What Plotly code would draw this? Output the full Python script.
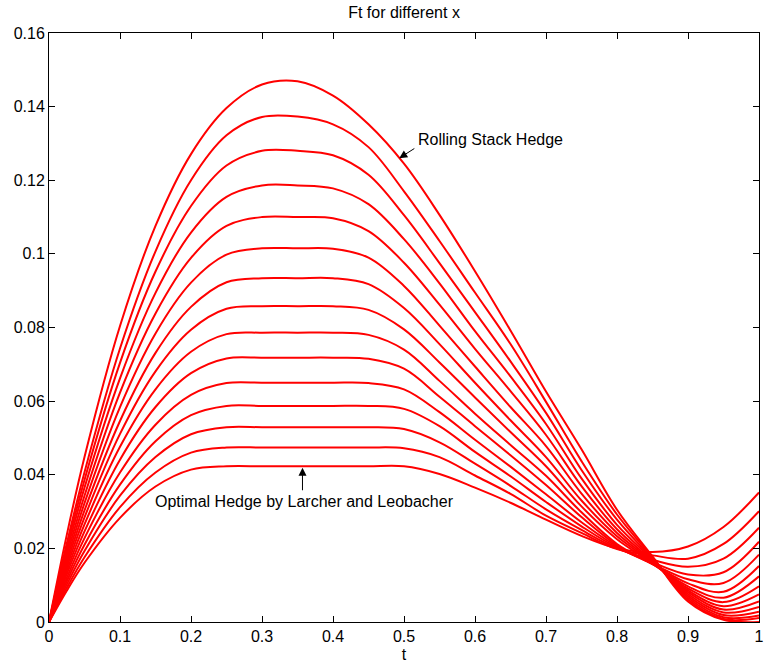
import plotly.graph_objects as go

# Sample times (t axis)
T = [0, 0.025, 0.05, 0.1, 0.15, 0.2, 0.25, 0.3, 0.35, 0.4, 0.45, 0.5,
     0.55, 0.6, 0.65, 0.7, 0.75, 0.8, 0.85, 0.9, 0.95, 1.0]

# F_t curves, from the rolling stack hedge (top) down to the optimal hedge (bottom)
F_00 = [0, .0236, .0448, .0804, .1076, .1271, .1396, .1460, .1469, .1430, .1352, .1245,
        .1106, .0953, .0792, .0626, .0469, .0305, .0178, .0056, .0006, 0]
F_01 = [0, .0213, .0407, .0743, .1007, .1200, .1322, .1372, .1373, .1352, .1290, .1170,
        .1035, .0895, .0755, .0598, .0437, .0292, .0175, .0061, .0008, .0011]
F_02 = [0, .0202, .0386, .0704, .0952, .1130, .1240, .1280, .1280, .1268, .1215, .1105,
        .0975, .0842, .0708, .0568, .0413, .0278, .0172, .0066, .0013, .0018]
F_03 = [0, .0191, .0365, .0662, .0894, .1058, .1155, .1186, .1186, .1178, .1135, .1040,
        .0920, .0790, .0667, .0538, .0390, .0264, .0169, .0071, .0019, .0028]
F_04 = [0, .0180, .0343, .0623, .0838, .0989, .1076, .1100, .1100, .1097, .1062, .0976,
        .0862, .0742, .0627, .0508, .0369, .0252, .0166, .0076, .0026, .0041]
F_05 = [0, .0169, .0323, .0584, .0784, .0922, .0998, .1015, .1015, .1014, .0990, .0913,
        .0805, .0694, .0584, .0478, .0349, .0242, .0164, .0081, .0034, .0056]
F_06 = [0, .0159, .0303, .0546, .0731, .0856, .0923, .0934, .0934, .0934, .0918, .0853,
        .0755, .0650, .0548, .0448, .0330, .0233, .0162, .0086, .0043, .0075]
F_07 = [0, .0149, .0284, .0511, .0681, .0794, .0851, .0858, .0858, .0858, .0848, .0795,
        .0705, .0610, .0516, .0423, .0314, .0225, .0160, .0091, .0054, .0097]
F_08 = [0, .0139, .0265, .0476, .0632, .0734, .0782, .0786, .0786, .0786, .0780, .0740,
        .0655, .0566, .0481, .0397, .0298, .0212, .0157, .0097, .0066, .0124]
F_09 = [0, .0130, .0246, .0441, .0584, .0676, .0716, .0718, .0718, .0718, .0715, .0688,
        .0612, .0532, .0453, .0372, .0285, .0208, .0157, .0105, .0082, .0152]
F_10 = [0, .0120, .0228, .0406, .0536, .0617, .0649, .0650, .0650, .0650, .0649, .0632,
        .0570, .0495, .0422, .0347, .0271, .0205, .0158, .0116, .0106, .0183]
F_11 = [0, .0111, .0210, .0373, .0491, .0562, .0587, .0587, .0587, .0587, .0587, .0579,
        .0532, .0462, .0396, .0326, .0260, .0202, .0162, .0129, .0135, .0218]
F_12 = [0, .0102, .0193, .0343, .0448, .0510, .0529, .0529, .0529, .0529, .0529, .0524,
        .0488, .0430, .0370, .0306, .0250, .0200, .0169, .0150, .0172, .0256]
F_13 = [0, .0093, .0176, .0312, .0406, .0460, .0474, .0474, .0474, .0474, .0474, .0472,
        .0448, .0398, .0348, .0289, .0242, .0198, .0181, .0172, .0212, .0301]
F_14 = [0, .0085, .0161, .0283, .0368, .0414, .0423, .0423, .0423, .0423, .0423, .0423,
        .0402, .0365, .0324, .0278, .0234, .0200, .0190, .0205, .0258, .0352]

CURVES = [F_00, F_01, F_02, F_03, F_04, F_05, F_06, F_07,
          F_08, F_09, F_10, F_11, F_12, F_13, F_14]

X_TICKS = [0, 0.1, 0.2, 0.3, 0.4, 0.5, 0.6, 0.7, 0.8, 0.9, 1]
X_LABELS = ["0", "0.1", "0.2", "0.3", "0.4", "0.5", "0.6", "0.7", "0.8", "0.9", "1"]
Y_TICKS = [0, 0.02, 0.04, 0.06, 0.08, 0.1, 0.12, 0.14, 0.16]
Y_LABELS = ["0", "0.02", "0.04", "0.06", "0.08", "0.1", "0.12", "0.14", "0.16"]

TITLE = "Ft for different x"
X_TITLE = "t"
LABEL_TOP = "Rolling Stack Hedge"
LABEL_BOTTOM = "Optimal Hedge by Larcher and Leobacher"

FONT = "Liberation Sans, Arial, Helvetica, sans-serif"

fig = go.Figure()
for ys in CURVES:
    fig.add_trace(go.Scatter(
        x=T, y=ys, mode="lines",
        line=dict(color="#ff0000", width=2, shape="spline", smoothing=1.0),
        showlegend=False, hoverinfo="skip",
    ))

axis_common = dict(
    showline=True, linecolor="black", linewidth=1, mirror="ticks",
    ticks="inside", ticklen=6, tickwidth=1, tickcolor="black",
    showgrid=False, zeroline=False, ticklabeloverflow="allow",
    tickfont=dict(family=FONT, size=16, color="black"),
)

fig.update_xaxes(range=[0, 1], tickvals=X_TICKS, ticktext=X_LABELS,
                 title=dict(text=X_TITLE, font=dict(family=FONT, size=16, color="black"),
                            standoff=4),
                 **axis_common)
fig.update_yaxes(range=[0, 0.16], tickvals=Y_TICKS, ticktext=Y_LABELS, **axis_common)

# Arrows pointing at the top and bottom curves
fig.add_annotation(x=0.4933, y=0.126, ax=16.6, ay=-10.6, text="", showarrow=True,
                   arrowhead=2, arrowsize=1.6, arrowwidth=1, arrowcolor="black")
fig.add_annotation(x=0.357, y=0.0419, ax=0, ay=24, text="", showarrow=True,
                   arrowhead=2, arrowsize=1.6, arrowwidth=1, arrowcolor="black")

fig.add_annotation(x=0.5165, y=0.1311, text=LABEL_TOP, showarrow=False,
                   xanchor="left", yanchor="middle",
                   font=dict(family=FONT, size=16, color="black"))
fig.add_annotation(x=0.3592, y=0.0327, text=LABEL_BOTTOM, showarrow=False,
                   xanchor="center", yanchor="middle",
                   font=dict(family=FONT, size=16, color="black"))

fig.update_layout(
    width=767, height=664,
    margin=dict(l=49, r=3, t=33, b=42),
    paper_bgcolor="white", plot_bgcolor="white",
    title=dict(text=TITLE, x=0.5, xref="paper", xanchor="center",
               y=1 - 12 / 664, yref="container", yanchor="middle",
               font=dict(family=FONT, size=16, color="black")),
)

fig.write_html("out.html")
